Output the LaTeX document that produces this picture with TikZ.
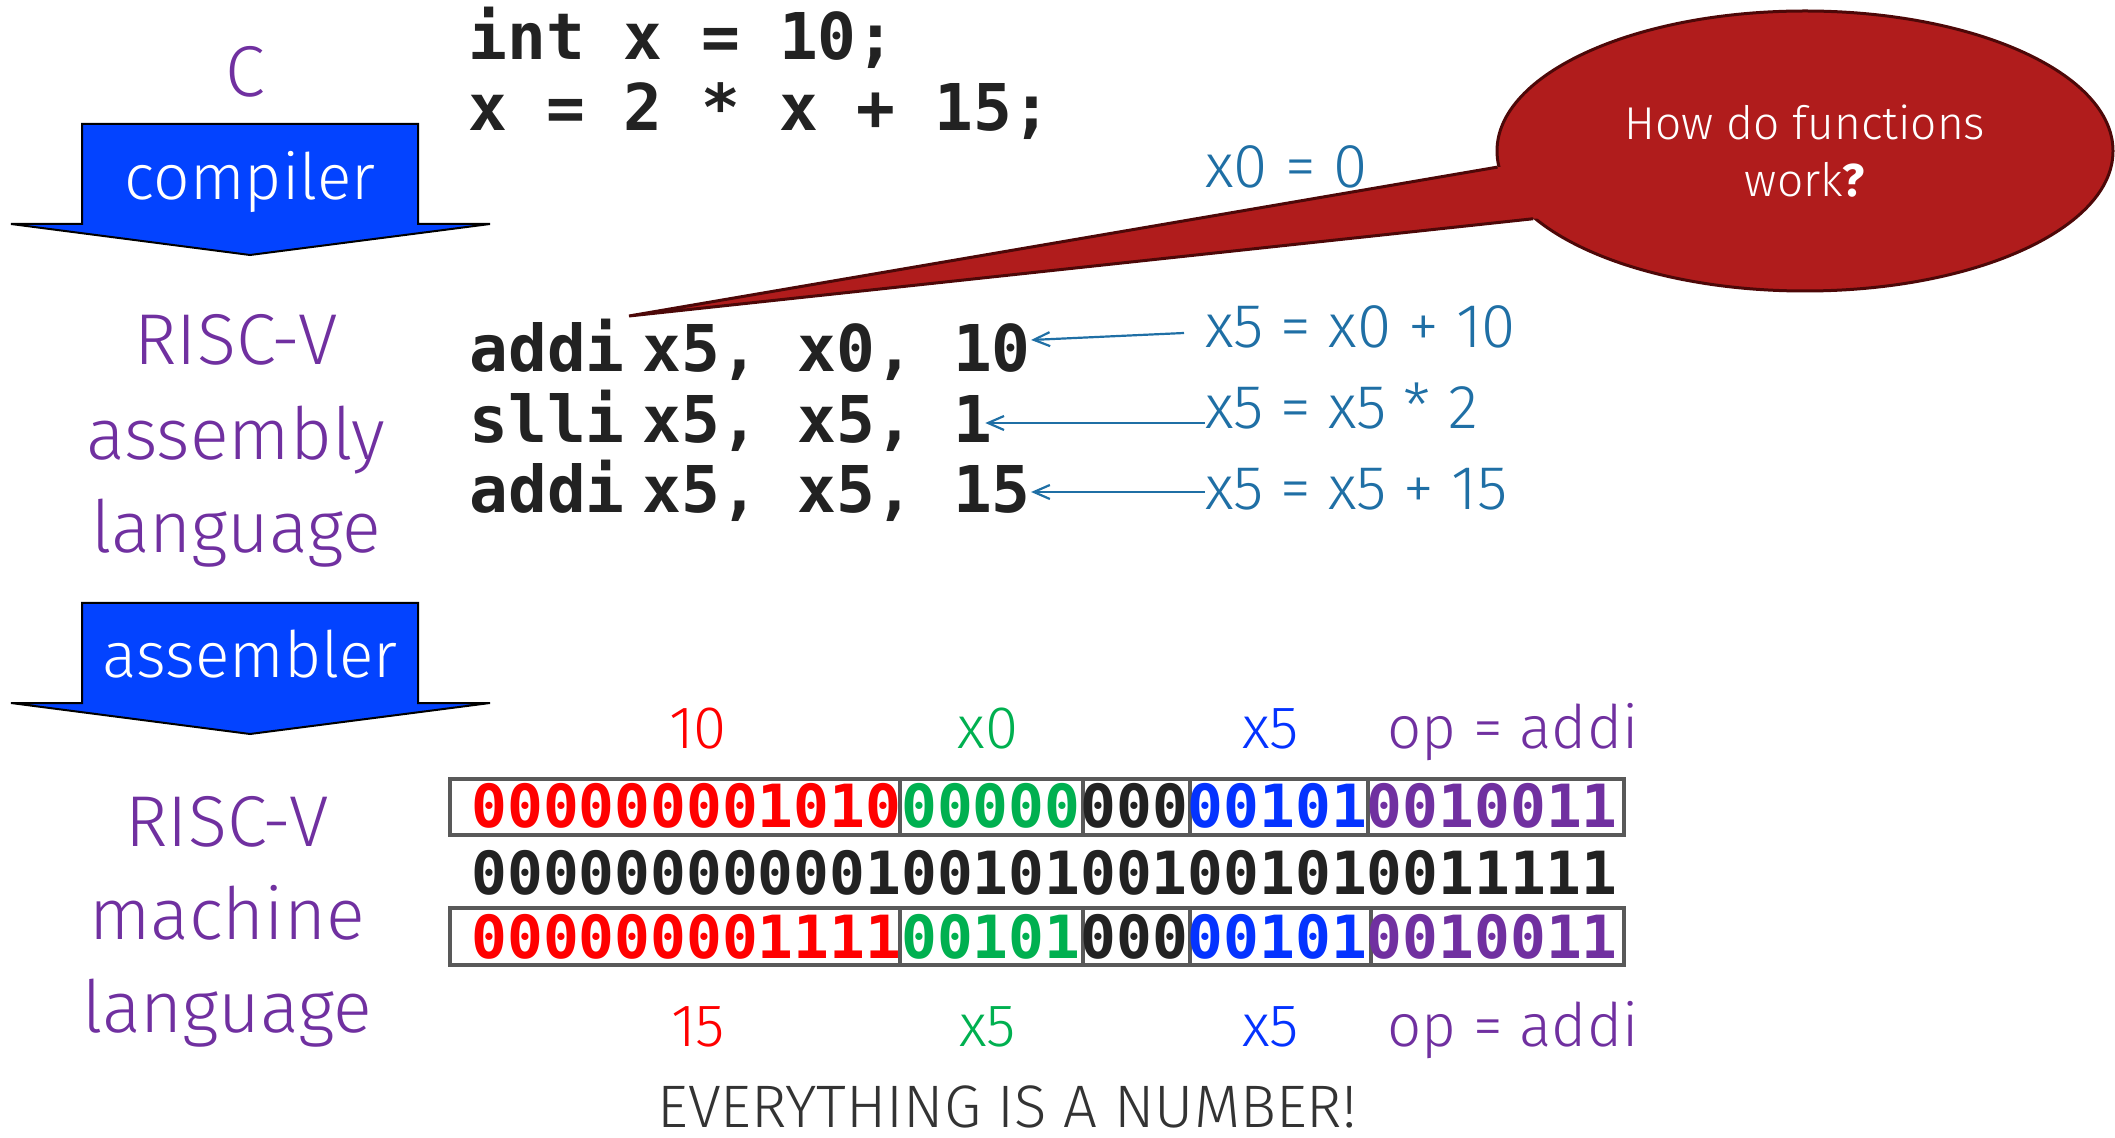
\documentclass[tikz,border=0pt]{standalone}
\usepackage{fontspec}
\setmainfont{Fira Sans Light}
\newfontfamily\heavysans{Fira Sans}
\newfontfamily\codefont{DejaVu Sans Mono}
\usetikzlibrary{arrows.meta,shapes.geometric}
\definecolor{labpurple}{HTML}{7030A0}
\definecolor{toolblue}{HTML}{0343FF}
\definecolor{noteblue}{HTML}{1F6FA5}
\definecolor{codeblack}{HTML}{222222}
\definecolor{bubblered}{HTML}{B01C1C}
\definecolor{bubbleedge}{HTML}{4D0808}
\definecolor{bitred}{HTML}{FF0000}
\definecolor{bitgreen}{HTML}{00B050}
\definecolor{bitblue}{HTML}{0433FF}
\definecolor{boxgray}{HTML}{595959}
\definecolor{mottogray}{HTML}{333333}

\begin{document}
\begin{tikzpicture}[x=0.5pt,y=-0.5pt,
    lab/.style={inner sep=0pt,anchor=base,color=labpurple,font=\fontsize{36}{36}\selectfont},
    toolarrow/.style={fill=toolblue,draw=black,line width=1pt},
    toolname/.style={inner sep=0pt,anchor=base,color=white,font=\fontsize{32}{32}\selectfont},
    code/.style={inner sep=0pt,anchor=base west,color=codeblack,font=\codefont\bfseries\fontsize{32.25}{32.25}\selectfont},
    note/.style={inner sep=0pt,anchor=base west,color=noteblue,font=\fontsize{31}{31}\selectfont},
    notearrow/.style={draw=noteblue,line width=1.1pt,-{Straight Barb[length=8pt,width=7pt]}},
    bits/.style={inner sep=0pt,anchor=base west,color=codeblack,font=\codefont\bfseries\fontsize{29.75}{29.75}\selectfont},
    bitbox/.style={draw=boxgray,line width=1.6pt},
    fieldlab/.style={inner sep=0pt,anchor=base,font=\fontsize{30}{30}\selectfont}]
  \useasboundingbox (0,0) rectangle (2115,1138);

  % left column
  \node[lab] (c) at (245,97) {C};
  \draw[toolarrow] (82,124) -- (418,124) -- (418,224) -- (490,224) -- (250,255)
    -- (11,224) -- (82,224) -- cycle;
  \node[toolname] (compiler) at (250,200) {compiler};
  \node[lab] (rv1) at (236,365) {RISC-V};
  \node[lab] (asmlab) at (236,460) {assembly};
  \node[lab] (lang1) at (236,553) {language};
  \draw[toolarrow] (82,603) -- (418,603) -- (418,703) -- (490,703) -- (250,734)
    -- (11,703) -- (82,703) -- cycle;
  \node[toolname] (assembler) at (250,677) {assembler};
  \node[lab] (rv2) at (227,846) {RISC-V};
  \node[lab] (machlab) at (227,939) {machine};
  \node[lab] (lang2) at (227,1032) {language};

  % C source
  \node[code] (src1) at (468,60) {int x = 10;};
  \node[code] (src2) at (468,131) {x = 2 * x + 15;};

  % assembly
  \node[code] (op1) at (469,372) {addi};
  \node[code] (arg1) at (642,372) {x5, x0, 10};
  \node[code] (op2) at (469,443) {slli};
  \node[code] (arg2) at (642,443) {x5, x5, 1};
  \node[code] (op3) at (469,513) {addi};
  \node[code] (arg3) at (642,513) {x5, x5, 15};

  % notes
  \node[note] (zero) at (1205,188) {x0 = 0};
  \node[note] (n1) at (1205,348) {x5 = x0 + 10};
  \node[note] (n2) at (1205,429) {x5 = x5 * 2};
  \node[note] (n3) at (1205,510) {x5 = x5 + 15};
  \draw[notearrow] ([xshift=-10.5pt,yshift=7.5pt]n1.base west) -- ([yshift=16pt]arg1.base east);
  \draw[notearrow] ([yshift=3pt]n2.base west) -- ([xshift=-3.5pt,yshift=10pt]arg2.base east);
  \draw[notearrow] ([yshift=9pt]n3.base west) -- ([yshift=10.5pt]arg3.base east);

  % speech bubble
  \node[ellipse,fill=bubblered,draw=bubbleedge,line width=1.5pt,inner sep=0pt,
    minimum width=308pt,minimum height=140pt,align=center,text=white,
    font=\fontsize{23}{28.5}\selectfont] (bubble) at (1805,151)
    {How do functions\\work{\heavysans\bfseries ?}};
  \coordinate (tip) at (629,316);
  \fill[bubblered] (tip) -- (bubble.183) -- ([xshift=5pt]bubble.183)
    -- ([xshift=5pt]bubble.194) -- (bubble.194) -- cycle;
  \draw[draw=bubbleedge,line width=1.5pt] (bubble.183) -- (tip) -- (bubble.194);

  % machine code
  \foreach \xa/\xb in {450/900,900/1083,1083/1190,1190/1368,1368/1624}
    \draw[bitbox] (\xa,779) rectangle (\xb,835);
  \foreach \xa/\xb in {450/900,900/1083,1083/1190,1190/1371,1371/1624}
    \draw[bitbox] (\xa,908) rectangle (\xb,965);
  \node[bits] (word1) at (471,827) {\textcolor{bitred}{000000001010}\textcolor{bitgreen}{00000}000\textcolor{bitblue}{00101}\textcolor{labpurple}{0010011}};
  \node[bits] (word2) at (471,894) {00000000000100101001001010011111};
  \node[bits] (word3) at (471,958) {\textcolor{bitred}{000000001111}\textcolor{bitgreen}{00101}000\textcolor{bitblue}{00101}\textcolor{labpurple}{0010011}};

  % field labels
  \node[fieldlab,color=bitred] (imm1) at (698,748) {10};
  \node[fieldlab,color=bitgreen] (rs1) at (988,748) {x0};
  \node[fieldlab,color=bitblue] (rd1) at (1271,748) {x5};
  \node[fieldlab,color=labpurple] (opc1) at (1513,748) {op = addi};
  \node[fieldlab,color=bitred] (imm3) at (698,1046) {15};
  \node[fieldlab,color=bitgreen] (rs3) at (988,1046) {x5};
  \node[fieldlab,color=bitblue] (rd3) at (1271,1046) {x5};
  \node[fieldlab,color=labpurple] (opc3) at (1513,1046) {op = addi};

  \node[inner sep=0pt,anchor=base,color=mottogray,font=\fontsize{30}{30}\selectfont]
    (motto) at (1007,1127) {EVERYTHING IS A NUMBER!};
\end{tikzpicture}
\end{document}
